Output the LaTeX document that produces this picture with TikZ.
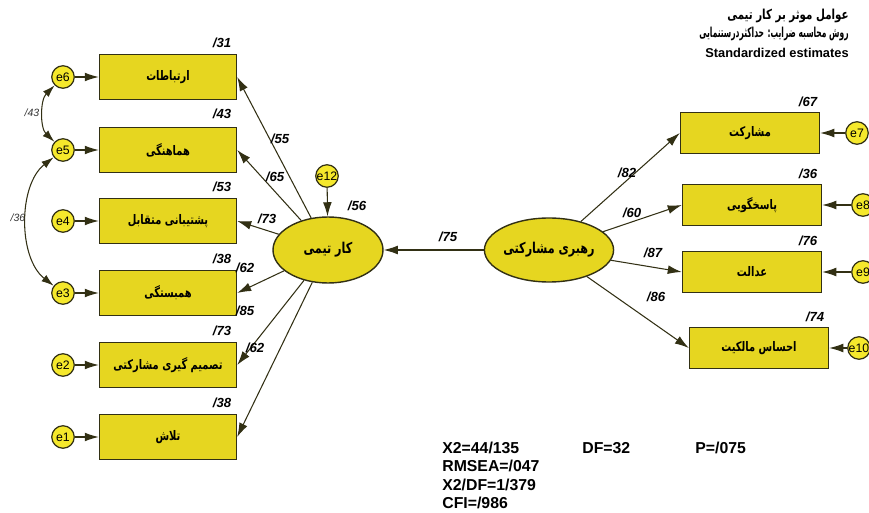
\documentclass[tikz,border=0pt]{standalone}
\usepackage{fontspec}
\setmainfont{Liberation Sans}
\newfontfamily\farsi[Script=Arabic, FakeStretch=0.75]{DejaVu Sans}
\newfontfamily\farsinarrow[Script=Arabic, FakeStretch=0.55]{DejaVu Sans}
\TeXXeTstate=1
\usetikzlibrary{arrows.meta,shapes.geometric}
\definecolor{semyellow}{RGB}{230,214,32}
\definecolor{erryellow}{RGB}{245,232,44}
\definecolor{semline}{RGB}{50,48,20}
\newcommand{\fa}[1]{{\farsi\bfseries\beginR #1\endR}}
\newcommand{\fanarrow}[1]{{\farsinarrow\bfseries\beginR #1\endR}}
\tikzset{
    obsbox/.style={draw=semline, fill=semyellow, line width=0.8pt,
        minimum width=2.74cm, minimum height=0.9cm, inner sep=0pt,
        font=\fontsize{7.5}{9}\selectfont},
    obsboxr/.style={obsbox, minimum width=2.78cm, minimum height=0.82cm},
    latent/.style={ellipse, draw=semline, fill=semyellow, line width=0.8pt,
        minimum width=2.2cm, minimum height=1.32cm, inner sep=0pt,
        font=\fontsize{8.5}{10}\selectfont},
    errnode/.style={circle, draw=semline, fill=erryellow, line width=0.7pt,
        minimum size=0.45cm, inner sep=0pt, font=\fontsize{7}{8}\selectfont},
    effect/.style={-{Latex[length=8pt,width=5pt]}, draw=semline, line width=0.6pt},
    covar/.style={{Latex[length=7pt,width=4.5pt]}-{Latex[length=7pt,width=4.5pt]},
        draw=semline, line width=0.6pt},
    load/.style={font=\fontsize{7.5}{9}\selectfont\bfseries\itshape, inner sep=0pt},
    corr/.style={font=\fontsize{6}{7}\selectfont\itshape, inner sep=0pt, text=black!80},
    fit/.style={font=\fontsize{9}{10}\selectfont\bfseries, inner sep=0pt, anchor=west},
}
\begin{document}
\begin{tikzpicture}[x=0.02cm, y=-0.02cm]
    \useasboundingbox (0,0) rectangle (869,513);
    % title
    \node[anchor=east, inner sep=0pt, font=\fontsize{7.8}{9}\selectfont] (t1) at (849,16) {\fa{عوامل موثر بر کار تیمی}};
    \node[anchor=east, inner sep=0pt, font=\fontsize{7.8}{9}\selectfont] (t2) at (849,34) {\fanarrow{روش محاسبه ضرایب: حداکثردرستنمایی}};
    \node[anchor=east, inner sep=0pt, font=\fontsize{7.3}{9}\selectfont\bfseries] (t3) at (849,53) {Standardized estimates};
    % latent variables
    \node[latent] (kar) at (328,250) {\fa{کار تیمی}};
    \node[latent, minimum width=2.18cm, minimum height=1.28cm] (rah) at (549,250) {\fa{رهبری مشارکتی}};
    \node[errnode] (e12) at (327,176) {e12};
    % left indicators
    \node[obsbox] (b1) at (168,77) {\fa{ارتباطات}};
    \node[obsbox] (b2) at (168,150) {\fa{هماهنگی}};
    \node[obsbox] (b3) at (168,221) {\fa{پشتیبانی متقابل}};
    \node[obsbox] (b4) at (168,293) {\fa{همبستگی}};
    \node[obsbox] (b5) at (168,365) {\fa{تصمیم گیری مشارکتی}};
    \node[obsbox] (b6) at (168,437) {\fa{تلاش}};
    \node[errnode] (e6) at (63,77) {e6};
    \node[errnode] (e5) at (63,150) {e5};
    \node[errnode] (e4) at (63,221) {e4};
    \node[errnode] (e3) at (63,293) {e3};
    \node[errnode] (e2) at (63,365) {e2};
    \node[errnode] (e1) at (63,437) {e1};
    % right indicators
    \node[obsboxr] (b7) at (750,133) {\fa{مشارکت}};
    \node[obsboxr] (b8) at (752,205) {\fa{پاسخگویی}};
    \node[obsboxr] (b9) at (752,272) {\fa{عدالت}};
    \node[obsboxr] (b10) at (759,348) {\fa{احساس مالکیت}};
    \node[errnode] (e7) at (857,133) {e7};
    \node[errnode] (e8) at (863,205) {e8};
    \node[errnode] (e9) at (863,272) {e9};
    \node[errnode] (e10) at (859,348) {e10};
    % paths
    \foreach \b in {b1,b2,b3,b4,b5,b6} {
        \draw[effect] (kar) -- (\b.east);
    }
    \draw[effect] (e6) -- (b1);
    \draw[effect] (e5) -- (b2);
    \draw[effect] (e4) -- (b3);
    \draw[effect] (e3) -- (b4);
    \draw[effect] (e2) -- (b5);
    \draw[effect] (e1) -- (b6);
    \foreach \b in {b7,b8,b9,b10} {
        \draw[effect] (rah) -- (\b.west);
    }
    \draw[effect] (e7) -- (b7);
    \draw[effect] (e8) -- (b8);
    \draw[effect] (e9) -- (b9);
    \draw[effect] (e10) -- (b10);
    \draw[effect] (rah) -- (kar);
    \draw[effect] (e12) -- (kar);
    % covariances
    \draw[covar] (e6) .. controls (40,100) and (40,128) .. (e5);
    \draw[covar] (e5) .. controls (18,185) and (18,258) .. (e3);
    \node[corr] (c1) at (32,113) {/43};
    \node[corr] (c2) at (18,218) {/36};
    % squared multiple correlations
    \node[load] (r1) at (222,43) {/31};
    \node[load] (r2) at (222,114) {/43};
    \node[load] (r3) at (222,187) {/53};
    \node[load] (r4) at (222,259) {/38};
    \node[load] (r5) at (222,331) {/73};
    \node[load] (r6) at (222,403) {/38};
    \node[load] (r7) at (808,102) {/67};
    \node[load] (r8) at (808,174) {/36};
    \node[load] (r9) at (808,241) {/76};
    \node[load] (r10) at (815,317) {/74};
    \node[load] (r12) at (357,206) {/56};
    % loadings
    \node[load] (l1) at (280,139) {/55};
    \node[load] (l2) at (275,177) {/65};
    \node[load] (l3) at (267,219) {/73};
    \node[load] (l4) at (245,268) {/62};
    \node[load] (l5) at (245,311) {/85};
    \node[load] (l6) at (255,348) {/62};
    \node[load] (l7) at (627,173) {/82};
    \node[load] (l8) at (632,213) {/60};
    \node[load] (l9) at (653,253) {/87};
    \node[load] (l10) at (656,297) {/86};
    \node[load] (l11) at (448,237) {/75};
    % fit indices
    \node[fit] (f1) at (442,448) {X2=44/135};
    \node[fit] (f2) at (582,448) {DF=32};
    \node[fit] (f3) at (695,448) {P=/075};
    \node[fit] (f4) at (442,466) {RMSEA=/047};
    \node[fit] (f5) at (442,485) {X2/DF=1/379};
    \node[fit] (f6) at (442,503) {CFI=/986};
\end{tikzpicture}
\end{document}
